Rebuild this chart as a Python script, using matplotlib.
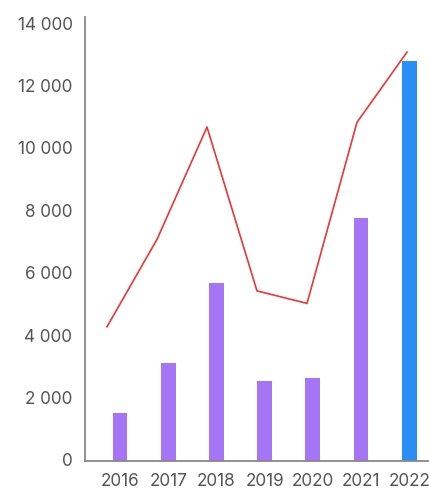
import matplotlib
matplotlib.use("Agg")
import matplotlib.pyplot as plt
import matplotlib.transforms as mtransforms
from matplotlib.ticker import FuncFormatter

years = ["2016", "2017", "2018", "2019", "2020", "2021", "2022"]
bar_values = [1550, 3150, 5700, 2550, 2650, 7800, 12800]
line_values = [4300, 7100, 10700, 5450, 5050, 10850, 13100]
bar_colors = ["#a675f5"] * 6 + ["#2a8ef7"]
yticks = [0, 2000, 4000, 6000, 8000, 10000, 12000, 14000]

plt.rcParams['font.family'] = ['Inter', 'DejaVu Sans']

W, H = 429, 489
fig = plt.figure(figsize=(W / 100, H / 100), dpi=100)
left, right, top, bottom = 85, 428, 18, 462
ax = fig.add_axes([left / W, 1 - bottom / H, (right - left) / W, (bottom - top) / H])

x = list(range(len(years)))
ax.bar(x, bar_values, width=0.31, color=bar_colors, zorder=2)
ax.set_xlim(-0.726, 6.39)
ax.set_ylim(0, 14225)
ax.set_xticks(x)
ax.set_xticklabels(years)
ax.set_yticks(yticks)
ax.yaxis.set_major_formatter(FuncFormatter(lambda v, p: f"{int(v):,}".replace(",", " ")))
ax.tick_params(axis='both', length=0, labelsize=12.3, colors="#555555")
ax.tick_params(axis='x', pad=8)
ax.tick_params(axis='y', pad=9)
offset = mtransforms.ScaledTranslation(0, 2 / 100, fig.dpi_scale_trans)
for lab in ax.get_yticklabels():
    lab.set_transform(lab.get_transform() + offset)
for s in ["top", "right"]:
    ax.spines[s].set_visible(False)
for s in ["left", "bottom"]:
    ax.spines[s].set_color("#888888")
    ax.spines[s].set_linewidth(1.3)

ax2 = ax.twiny()
ax2.plot(x, line_values, color="#ee3535", linewidth=1.2, zorder=3)
ax2.set_xlim(-0.44, 6.42)
ax2.set_ylim(0, 14225)
ax2.axis("off")

fig.savefig("out.png", dpi=100)
